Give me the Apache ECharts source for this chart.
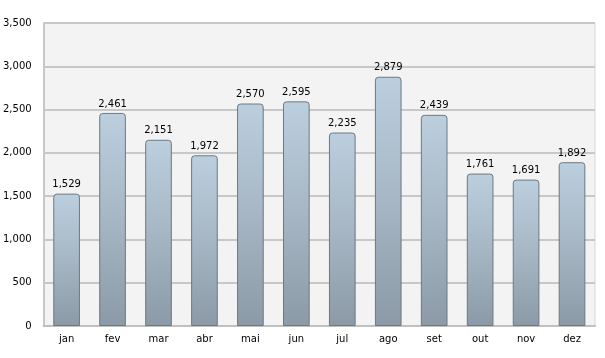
<!DOCTYPE html>
<html><head><meta charset="utf-8">
<script src="https://cdn.jsdelivr.net/npm/echarts@6/dist/echarts.min.js"></script>
<style>html,body{margin:0;padding:0;background:#fff}#c{width:605px;height:358px}</style>
</head><body><div id="c"></div>
<script>
const categories = ['jan','fev','mar','abr','mai','jun','jul','ago','set','out','nov','dez'];
const values = [1529,2461,2151,1972,2570,2595,2235,2879,2439,1761,1691,1892];
const yTicks = {min:0, max:3500, interval:500};

const chart = echarts.init(document.getElementById('c'), null, {renderer:'canvas'});
const font = 'DejaVu Sans, Verdana, sans-serif';
chart.setOption({
  animation:false,
  grid:{left:43, right:10, top:23, bottom:32, show:true, backgroundColor:'#f3f3f3', borderColor:'#d4d4d4', borderWidth:1},
  xAxis:{type:'category', data:categories,
    axisLine:{lineStyle:{color:'#c0c0c0', width:2}}, axisTick:{show:false},
    axisLabel:{color:'#000', fontFamily:font, fontSize:10, margin:8}},
  yAxis:{type:'value', min:yTicks.min, max:yTicks.max, interval:yTicks.interval,
    axisLine:{show:true, lineStyle:{color:'#c8c8c8', width:2}}, axisTick:{show:false},
    splitLine:{lineStyle:{color:'#c8c8c8', width:2}},
    axisLabel:{color:'#000', fontFamily:font, fontSize:10, margin:12,
      formatter:v=>v.toLocaleString('en-US')}},
  series:[{type:'bar', data:values, barWidth:'58%',
    itemStyle:{color:new echarts.graphic.LinearGradient(0,0,0,1,[
      {offset:0,color:'#bccfdf'},{offset:0.5,color:'#a6b6c4'},{offset:1,color:'#8b9aa6'}]),
      borderColor:'#6c7882', borderWidth:1, borderRadius:[3,3,0,0]},
    label:{show:true, position:'top', color:'#000', fontFamily:font, fontSize:10, distance:4,
      formatter:p=>p.value.toLocaleString('en-US')}}]
});
</script></body></html>
